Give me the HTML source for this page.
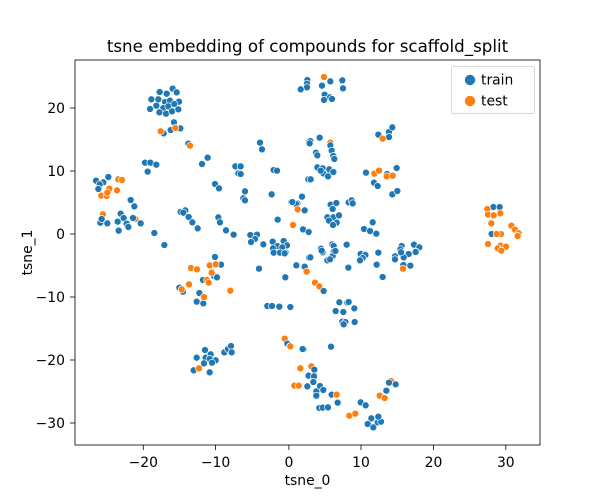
<!DOCTYPE html>
<html><head><style>body{margin:0;background:#fff}svg{display:block}text{font-family:"DejaVu Sans","Liberation Sans",sans-serif;fill:#000}</style></head>
<body>
<svg width="600" height="500" viewBox="0 0 600 500" xmlns="http://www.w3.org/2000/svg">
<rect width="600" height="500" fill="#fff"/>
<defs>
<circle id="b" r="10.5" fill="#1f77b4" stroke="#fff" stroke-width="2"/>
<circle id="o" r="10.5" fill="#ff7f0e" stroke="#fff" stroke-width="2"/>
</defs>
<g id="pts">
<g transform="translate(75,60) scale(0.33333)">
<use href="#b" x="254" y="96"/><use href="#b" x="275" y="101"/><use href="#b" x="293" y="86"/><use href="#b" x="305" y="97"/><use href="#b" x="229" y="118"/><use href="#b" x="250" y="118"/><use href="#b" x="270" y="126"/><use href="#b" x="285" y="122"/><use href="#b" x="312" y="125"/><use href="#b" x="244" y="137"/><use href="#b" x="265" y="144"/><use href="#b" x="280" y="139"/><use href="#b" x="298" y="132"/><use href="#b" x="225" y="147"/><use href="#b" x="253" y="157"/><use href="#b" x="273" y="161"/><use href="#b" x="291" y="154"/><use href="#b" x="310" y="148"/><use href="#b" x="297" y="187"/><use href="#b" x="287" y="210"/><use href="#b" x="316" y="205"/><use href="#b" x="266" y="220"/>
<use href="#o" x="257" y="214"/><use href="#o" x="301" y="204"/>
<use href="#b" x="340" y="251"/><use href="#o" x="345" y="257"/>
<use href="#b" x="555" y="248"/><use href="#b" x="561" y="268"/><use href="#b" x="702" y="245"/>
<use href="#b" x="210" y="308"/><use href="#b" x="226" y="308"/><use href="#b" x="244" y="314"/><use href="#b" x="218" y="335"/><use href="#b" x="381" y="312"/><use href="#b" x="398" y="293"/><use href="#b" x="481" y="319"/><use href="#b" x="497" y="319"/><use href="#b" x="490" y="340"/><use href="#b" x="497" y="342"/><use href="#b" x="596" y="330"/><use href="#b" x="606" y="332"/><use href="#b" x="420" y="372"/><use href="#b" x="432" y="385"/><use href="#b" x="510" y="394"/><use href="#b" x="505" y="415"/><use href="#b" x="510" y="421"/><use href="#b" x="590" y="403"/><use href="#b" x="700" y="358"/>
<use href="#b" x="63" y="362"/><use href="#b" x="85" y="367"/><use href="#b" x="100" y="351"/><use href="#b" x="74" y="373"/><use href="#b" x="70" y="387"/>
<use href="#o" x="130" y="358"/><use href="#o" x="141" y="360"/><use href="#o" x="103" y="386"/><use href="#o" x="126" y="391"/><use href="#o" x="79" y="407"/><use href="#o" x="95" y="408"/><use href="#o" x="97" y="398"/>
<use href="#b" x="167" y="420"/><use href="#b" x="178" y="439"/>
<use href="#b" x="649" y="426"/><use href="#b" x="661" y="432"/><use href="#b" x="681" y="411"/><use href="#b" x="688" y="451"/><use href="#b" x="667" y="430"/><use href="#o" x="669" y="448"/><use href="#o" x="655" y="495"/>
<use href="#b" x="608" y="479"/><use href="#b" x="684" y="508"/><use href="#b" x="700" y="516"/>
<use href="#o" x="84" y="463"/><use href="#o" x="181" y="477"/>
<use href="#b" x="76" y="488"/><use href="#b" x="97" y="490"/><use href="#b" x="80" y="477"/><use href="#b" x="137" y="461"/><use href="#b" x="146" y="474"/><use href="#b" x="128" y="485"/><use href="#b" x="155" y="491"/><use href="#b" x="160" y="501"/><use href="#b" x="131" y="512"/><use href="#b" x="174" y="474"/><use href="#b" x="197" y="490"/>
<use href="#b" x="238" y="519"/><use href="#b" x="268" y="555"/><use href="#b" x="317" y="456"/><use href="#b" x="331" y="451"/><use href="#b" x="325" y="458"/><use href="#b" x="341" y="471"/><use href="#b" x="352" y="487"/><use href="#b" x="368" y="505"/><use href="#b" x="430" y="472"/><use href="#b" x="435" y="487"/><use href="#b" x="453" y="511"/><use href="#b" x="476" y="524"/>
<use href="#b" x="526" y="525"/><use href="#b" x="546" y="524"/><use href="#b" x="540" y="537"/><use href="#b" x="528" y="546"/><use href="#b" x="565" y="553"/><use href="#b" x="593" y="545"/><use href="#b" x="607" y="558"/><use href="#b" x="626" y="543"/><use href="#b" x="636" y="556"/><use href="#b" x="622" y="562"/><use href="#b" x="594" y="565"/><use href="#b" x="614" y="578"/><use href="#b" x="632" y="578"/>
</g>
<g transform="translate(290,60) scale(0.33333)">
<use href="#b" x="52" y="60"/><use href="#b" x="51" y="71"/><use href="#b" x="51" y="82"/><use href="#b" x="32" y="88"/><use href="#b" x="96" y="77"/><use href="#b" x="121" y="64"/><use href="#b" x="157" y="61"/><use href="#b" x="159" y="85"/><use href="#b" x="104" y="104"/><use href="#b" x="120" y="112"/><use href="#b" x="126" y="117"/><use href="#b" x="102" y="120"/><use href="#o" x="102" y="51"/>
<use href="#b" x="265" y="224"/><use href="#b" x="297" y="216"/><use href="#b" x="307" y="202"/><use href="#b" x="297" y="231"/><use href="#o" x="278" y="236"/>
<use href="#b" x="61" y="243"/><use href="#b" x="59" y="250"/><use href="#b" x="89" y="233"/><use href="#o" x="121" y="248"/><use href="#b" x="121" y="256"/><use href="#b" x="125" y="272"/><use href="#b" x="130" y="288"/><use href="#b" x="133" y="297"/><use href="#b" x="78" y="278"/><use href="#b" x="82" y="286"/>
<use href="#b" x="82" y="322"/><use href="#b" x="98" y="325"/><use href="#b" x="118" y="328"/><use href="#b" x="100" y="340"/><use href="#b" x="114" y="349"/><use href="#b" x="92" y="332"/><use href="#b" x="130" y="336"/><use href="#b" x="62" y="358"/><use href="#b" x="320" y="324"/><use href="#b" x="228" y="338"/><use href="#b" x="252" y="368"/><use href="#b" x="263" y="378"/><use href="#b" x="307" y="403"/><use href="#b" x="322" y="393"/><use href="#b" x="291" y="342"/>
<use href="#o" x="253" y="341"/><use href="#o" x="267" y="332"/><use href="#o" x="290" y="349"/><use href="#o" x="308" y="347"/>
<use href="#b" x="36" y="410"/><use href="#b" x="18" y="432"/><use href="#b" x="7" y="426"/><use href="#b" x="44" y="451"/><use href="#b" x="122" y="434"/><use href="#b" x="139" y="429"/><use href="#b" x="128" y="447"/><use href="#b" x="112" y="472"/><use href="#b" x="130" y="472"/><use href="#b" x="147" y="466"/><use href="#b" x="117" y="482"/><use href="#b" x="140" y="488"/><use href="#b" x="129" y="495"/><use href="#b" x="176" y="427"/><use href="#b" x="185" y="421"/><use href="#b" x="188" y="430"/><use href="#b" x="248" y="487"/><use href="#b" x="222" y="507"/><use href="#b" x="240" y="513"/><use href="#b" x="259" y="521"/><use href="#b" x="39" y="508"/><use href="#b" x="56" y="516"/><use href="#b" x="170" y="554"/><use href="#b" x="127" y="553"/><use href="#b" x="131" y="558"/><use href="#b" x="93" y="566"/><use href="#b" x="98" y="577"/><use href="#b" x="131" y="575"/><use href="#b" x="212" y="580"/><use href="#b" x="226" y="582"/><use href="#b" x="265" y="578"/><use href="#b" x="335" y="558"/><use href="#b" x="331" y="568"/><use href="#b" x="372" y="554"/><use href="#b" x="388" y="562"/><use href="#b" x="378" y="575"/><use href="#b" x="356" y="582"/>
<use href="#o" x="23" y="448"/><use href="#o" x="9" y="495"/>
<use href="#b" x="610" y="441"/><use href="#b" x="629" y="441"/><use href="#b" x="605" y="522"/><use href="#b" x="621" y="522"/>
<use href="#o" x="592" y="447"/><use href="#o" x="594" y="464"/><use href="#o" x="611" y="466"/><use href="#o" x="631" y="460"/><use href="#o" x="604" y="490"/><use href="#o" x="633" y="522"/><use href="#o" x="620" y="522"/><use href="#o" x="664" y="497"/><use href="#o" x="675" y="509"/><use href="#o" x="686" y="520"/><use href="#o" x="683" y="528"/><use href="#o" x="594" y="552"/><use href="#o" x="631" y="557"/><use href="#o" x="648" y="560"/><use href="#o" x="623" y="565"/><use href="#o" x="635" y="573"/>
</g>
<g transform="translate(75,250) scale(0.33333)">
<use href="#b" x="420" y="21"/><use href="#b" x="438" y="44"/><use href="#b" x="384" y="90"/><use href="#b" x="417" y="78"/><use href="#b" x="426" y="82"/><use href="#b" x="313" y="113"/><use href="#b" x="324" y="125"/><use href="#b" x="373" y="129"/><use href="#b" x="365" y="155"/><use href="#b" x="385" y="160"/>
<use href="#o" x="348" y="54"/><use href="#o" x="366" y="58"/><use href="#o" x="404" y="46"/><use href="#o" x="422" y="43"/><use href="#o" x="410" y="68"/><use href="#o" x="396" y="90"/><use href="#o" x="401" y="98"/><use href="#o" x="342" y="103"/><use href="#o" x="320" y="118"/><use href="#o" x="387" y="141"/><use href="#o" x="466" y="122"/>
<use href="#b" x="552" y="56"/><use href="#b" x="596" y="8"/><use href="#b" x="615" y="8"/><use href="#b" x="629" y="10"/><use href="#b" x="665" y="46"/><use href="#b" x="690" y="50"/><use href="#b" x="631" y="82"/><use href="#b" x="702" y="23"/><use href="#b" x="577" y="168"/><use href="#b" x="591" y="168"/><use href="#b" x="613" y="170"/><use href="#b" x="645" y="171"/><use href="#o" x="696" y="64"/>
<use href="#b" x="390" y="300"/><use href="#b" x="365" y="323"/><use href="#b" x="392" y="323"/><use href="#b" x="407" y="313"/><use href="#b" x="404" y="327"/><use href="#b" x="422" y="331"/><use href="#b" x="387" y="340"/><use href="#b" x="411" y="338"/><use href="#b" x="356" y="361"/><use href="#b" x="404" y="367"/><use href="#b" x="448" y="307"/><use href="#b" x="459" y="297"/><use href="#b" x="468" y="288"/><use href="#b" x="470" y="307"/><use href="#o" x="372" y="355"/>
<use href="#o" x="629" y="266"/><use href="#b" x="637" y="281"/><use href="#o" x="645" y="289"/><use href="#o" x="676" y="355"/><use href="#o" x="658" y="407"/><use href="#o" x="671" y="407"/><use href="#b" x="682" y="297"/><use href="#b" x="686" y="298"/><use href="#b" x="699" y="378"/><use href="#b" x="697" y="410"/>
</g>
<g transform="translate(290,250) scale(0.33333)">
<use href="#b" x="61" y="22"/><use href="#b" x="95" y="2"/><use href="#b" x="128" y="18"/><use href="#b" x="112" y="31"/><use href="#b" x="120" y="28"/><use href="#b" x="136" y="3"/><use href="#b" x="212" y="12"/><use href="#b" x="226" y="15"/><use href="#b" x="218" y="24"/><use href="#b" x="210" y="31"/><use href="#b" x="265" y="8"/><use href="#b" x="315" y="19"/><use href="#b" x="341" y="22"/><use href="#b" x="315" y="28"/><use href="#b" x="333" y="7"/><use href="#b" x="377" y="6"/><use href="#b" x="19" y="46"/><use href="#b" x="44" y="50"/><use href="#b" x="175" y="53"/><use href="#b" x="260" y="44"/><use href="#b" x="278" y="81"/><use href="#b" x="340" y="45"/><use href="#b" x="361" y="47"/>
<use href="#o" x="50" y="65"/><use href="#o" x="339" y="56"/><use href="#o" x="634" y="2"/>
<use href="#o" x="75" y="98"/><use href="#o" x="88" y="109"/><use href="#b" x="101" y="123"/><use href="#b" x="148" y="157"/><use href="#b" x="172" y="158"/><use href="#b" x="176" y="156"/><use href="#b" x="193" y="175"/><use href="#b" x="137" y="183"/><use href="#b" x="160" y="186"/><use href="#b" x="157" y="215"/><use href="#b" x="166" y="216"/><use href="#b" x="161" y="223"/><use href="#b" x="194" y="216"/><use href="#b" x="1" y="171"/>
<use href="#b" x="38" y="297"/><use href="#b" x="123" y="290"/><use href="#o" x="1" y="289"/>
<use href="#o" x="31" y="355"/><use href="#o" x="64" y="349"/><use href="#o" x="13" y="407"/><use href="#o" x="26" y="407"/><use href="#o" x="303" y="393"/><use href="#o" x="269" y="437"/><use href="#o" x="284" y="444"/><use href="#o" x="178" y="497"/><use href="#o" x="196" y="491"/>
<use href="#b" x="73" y="359"/><use href="#b" x="56" y="377"/><use href="#b" x="72" y="379"/><use href="#b" x="70" y="396"/><use href="#b" x="52" y="409"/><use href="#b" x="79" y="424"/><use href="#b" x="79" y="437"/><use href="#b" x="90" y="408"/><use href="#b" x="100" y="420"/><use href="#b" x="125" y="434"/><use href="#o" x="140" y="434"/><use href="#b" x="143" y="458"/><use href="#b" x="88" y="474"/><use href="#b" x="98" y="473"/><use href="#b" x="114" y="472"/><use href="#b" x="212" y="457"/><use href="#b" x="227" y="466"/><use href="#b" x="297" y="398"/><use href="#b" x="317" y="403"/><use href="#b" x="289" y="422"/><use href="#b" x="244" y="505"/><use href="#b" x="233" y="522"/><use href="#b" x="250" y="532"/><use href="#b" x="263" y="517"/><use href="#b" x="273" y="515"/><use href="#b" x="265" y="500"/>
</g>
</g>
<rect x="75" y="60" width="465" height="385" fill="none" stroke="#000" stroke-width="0.8"/>
<g stroke="#000" stroke-width="0.8">
<line x1="143.3" y1="445" x2="143.3" y2="450"/><line x1="215.6" y1="445" x2="215.6" y2="450"/><line x1="288.9" y1="445" x2="288.9" y2="450"/><line x1="361" y1="445" x2="361" y2="450"/><line x1="433.5" y1="445" x2="433.5" y2="450"/><line x1="505.8" y1="445" x2="505.8" y2="450"/>
<line x1="70" y1="108" x2="75" y2="108"/><line x1="70" y1="171" x2="75" y2="171"/><line x1="70" y1="234" x2="75" y2="234"/><line x1="70" y1="297" x2="75" y2="297"/><line x1="70" y1="360" x2="75" y2="360"/><line x1="70" y1="423" x2="75" y2="423"/>
</g>
<g font-size="13.9" text-anchor="middle">
<text x="143.3" y="467">−20</text><text x="215.6" y="467">−10</text><text x="288.9" y="467">0</text><text x="361" y="467">10</text><text x="433.5" y="467">20</text><text x="505.8" y="467">30</text>
</g>
<g font-size="13.9" text-anchor="end">
<text x="65" y="113">20</text><text x="65" y="176">10</text><text x="65" y="239">0</text><text x="65" y="302">−10</text><text x="65" y="365">−20</text><text x="65" y="428">−30</text>
</g>
<text x="307.5" y="485" font-size="13.9" text-anchor="middle">tsne_0</text>
<text transform="translate(32,252.5) rotate(-90)" font-size="13.9" text-anchor="middle">tsne_1</text>
<text x="307.5" y="52" font-size="16.7" text-anchor="middle">tsne embedding of compounds for scaffold_split</text>
<rect x="451.5" y="66.5" width="83" height="47" rx="2" fill="#fff" fill-opacity="0.8" stroke="#ccc" stroke-width="0.8"/>
<circle cx="470" cy="80" r="5.5" fill="#1f77b4" stroke="#fff" stroke-width="0.6"/>
<circle cx="470" cy="101" r="5.5" fill="#ff7f0e" stroke="#fff" stroke-width="0.6"/>
<text x="481" y="84.5" font-size="13.9">train</text>
<text x="481" y="105.5" font-size="13.9">test</text>
</svg>
</body></html>
